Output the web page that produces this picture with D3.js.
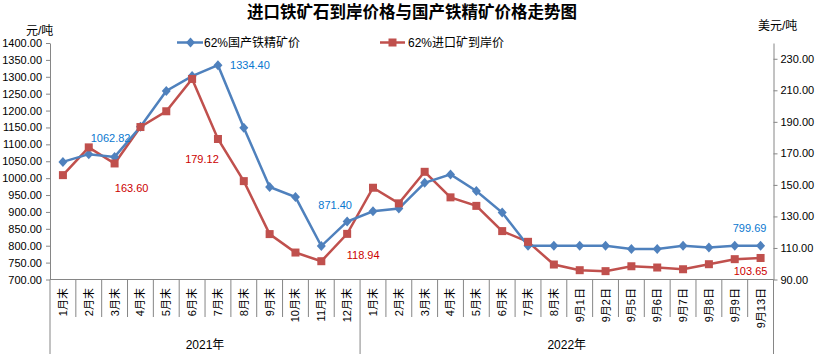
<!DOCTYPE html>
<html>
<head>
<meta charset="utf-8">
<script src="https://cdn.jsdelivr.net/npm/d3@7"></script>
<style>
  body { margin: 0; background: #fff; }
  text { font-family: "Liberation Sans", "Noto Sans CJK SC", sans-serif; }
</style>
</head>
<body>
<div id="chart"></div>
<script>
// dados
var categorias = ["1月末","2月末","3月末","4月末","5月末","6月末","7月末","8月末","9月末","10月末","11月末","12月末",
                  "1月末","2月末","3月末","4月末","5月末","6月末","7月末","8月末",
                  "9月1日","9月2日","9月5日","9月6日","9月7日","9月8日","9月9日","9月13日"];
var anos = ["2021年", "2022年"];
var anoInicio = [0, 12];
var anoFim = [12, 28];

var precoNacional = [1048, 1071, 1062.82, 1152, 1258, 1302, 1334.40, 1149, 974, 944, 799, 871.40,
                     902, 910, 986, 1011, 962, 898, 799.69, 799.69,
                     799.69, 799.69, 790, 790, 799.69, 795, 799.69, 799.69];
var precoImportado = [156.2, 173.8, 163.60, 186.7, 196.7, 217.2, 179.12, 152.4, 118.8, 107.1, 101.6, 118.94,
                      148.2, 138.3, 158.3, 142.1, 136.7, 120.7, 113.9, 99.5,
                      95.9, 95.3, 98.4, 97.6, 96.5, 99.7, 102.9, 103.65];

var ticksEsq = [700,750,800,850,900,950,1000,1050,1100,1150,1200,1250,1300,1350,1400];
var ticksDir = [90,110,130,150,170,190,210,230];

var rotuloNacional = [2, 6, 11, 27];
var rotuloImportado = [2, 6, 11, 27];

var azul = "#4F81BD", vermelho = "#C0504D";
var corEixo = "#868686";

var W = 819, H = 354;
var pEsq = 50, pDir = 773.5, pTopo = 43, pBase = 279.5;

var svg = d3.select("#chart")
            .append("svg")
            .attr("width", W)
            .attr("height", H);

// escalas
var x = d3.scaleBand()
          .domain(d3.range(categorias.length))
          .range([pEsq, pDir])
          .padding(0);

var yEsq = d3.scaleLinear().domain([700, 1400]).range([pBase, pTopo]);
var yDir = d3.scaleLinear().domain([90, 240]).range([pBase, pTopo]);

// título
svg.append("text")
   .attr("x", 412)
   .attr("y", 18)
   .attr("text-anchor", "middle")
   .style("font-family", "'Noto Sans CJK SC', sans-serif")
   .style("font-weight", "bold")
   .style("font-size", "16.5px")
   .text("进口铁矿石到岸价格与国产铁精矿价格走势图");

svg.append("text")
   .attr("x", 26).attr("y", 35)
   .style("font-size", "12px")
   .text("元/吨");

svg.append("text")
   .attr("x", 758).attr("y", 30)
   .style("font-size", "12px")
   .text("美元/吨");

// eixos y
var eixoEsq = svg.append("g")
   .attr("transform", "translate(" + pEsq + ",0)")
   .call(d3.axisLeft(yEsq).tickValues(ticksEsq).tickFormat(d3.format(".2f")).tickSize(4).tickSizeOuter(0));

var eixoDir = svg.append("g")
   .attr("transform", "translate(" + pDir + ",0)")
   .call(d3.axisRight(yDir).tickValues(ticksDir).tickFormat(d3.format(".2f")).tickSize(4).tickSizeOuter(0));

[eixoEsq, eixoDir].forEach(function(g) {
    g.select(".domain").attr("stroke", corEixo);
    g.selectAll(".tick line").attr("stroke", corEixo);
    g.selectAll(".tick text")
     .style("font-size", "11px")
     .style("font-family", "'Liberation Sans', sans-serif")
     .attr("fill", "#000");
});
eixoEsq.selectAll(".tick text").attr("x", -8);
eixoDir.selectAll(".tick text").attr("x", 7);

// eixo x
svg.append("line")
   .attr("x1", pEsq).attr("x2", pDir)
   .attr("y1", pBase).attr("y2", pBase)
   .attr("stroke", corEixo);

svg.selectAll(".sep")
   .data(d3.range(categorias.length + 1))
   .enter()
   .append("line")
   .attr("class", "sep")
   .attr("x1", function(i) { return i < categorias.length ? x(i) : x(i - 1) + x.bandwidth(); })
   .attr("x2", function(i) { return i < categorias.length ? x(i) : x(i - 1) + x.bandwidth(); })
   .attr("y1", pBase)
   .attr("y2", function(i) { return (anoInicio.indexOf(i) >= 0 || i === categorias.length) ? H : 317; })
   .attr("stroke", corEixo);

svg.selectAll(".cat")
   .data(categorias)
   .enter()
   .append("text")
   .attr("class", "cat")
   .attr("transform", function(d, i) { return "translate(" + (x(i) + x.bandwidth() / 2) + ",288) rotate(-90)"; })
   .attr("text-anchor", "end")
   .attr("dy", "0.36em")
   .style("font-size", "11px")
   .text(function(d) { return d; });

svg.selectAll(".ano")
   .data(anos)
   .enter()
   .append("text")
   .attr("class", "ano")
   .attr("x", function(d, i) { return (x(anoInicio[i]) + x(anoFim[i] - 1) + x.bandwidth()) / 2; })
   .attr("y", 349)
   .attr("text-anchor", "middle")
   .style("font-size", "12px")
   .text(function(d) { return d; });

// linhas
var cx = function(d, i) { return x(i) + x.bandwidth() / 2; };

var linhaNac = d3.line()
   .x(cx)
   .y(function(d) { return yEsq(d); });
var linhaImp = d3.line()
   .x(cx)
   .y(function(d) { return yDir(d); });

svg.append("path")
   .datum(precoImportado)
   .attr("d", linhaImp)
   .attr("fill", "none")
   .attr("stroke", vermelho)
   .attr("stroke-width", 2.5);

svg.append("path")
   .datum(precoNacional)
   .attr("d", linhaNac)
   .attr("fill", "none")
   .attr("stroke", azul)
   .attr("stroke-width", 2.5);

var diamante = "M0,-5L4.5,0L0,5L-4.5,0Z";

svg.selectAll(".mNac")
   .data(precoNacional)
   .enter()
   .append("path")
   .attr("class", "mNac")
   .attr("d", diamante)
   .attr("transform", function(d, i) { return "translate(" + cx(d, i) + "," + yEsq(d) + ")"; })
   .attr("fill", azul);

svg.selectAll(".mImp")
   .data(precoImportado)
   .enter()
   .append("rect")
   .attr("class", "mImp")
   .attr("x", function(d, i) { return cx(d, i) - 4; })
   .attr("y", function(d) { return yDir(d) - 4; })
   .attr("width", 8)
   .attr("height", 8)
   .attr("fill", vermelho);

// rótulos de dados
var desvNac = { 2: [-4, -15], 6: [32, 4], 11: [-12, -13], 27: [-11, -14] };
var desvImp = { 2: [17, 29], 6: [-16, 24], 11: [16, 25], 27: [-10, 17] };

svg.selectAll(".lNac")
   .data(rotuloNacional)
   .enter()
   .append("text")
   .attr("class", "lNac")
   .attr("x", function(i) { return cx(null, i) + desvNac[i][0]; })
   .attr("y", function(i) { return yEsq(precoNacional[i]) + desvNac[i][1]; })
   .attr("text-anchor", "middle")
   .attr("fill", "#0A78D0")
   .style("font-size", "11px")
   .text(function(i) { return d3.format(".2f")(precoNacional[i]); });

svg.selectAll(".lImp")
   .data(rotuloImportado)
   .enter()
   .append("text")
   .attr("class", "lImp")
   .attr("x", function(i) { return cx(null, i) + desvImp[i][0]; })
   .attr("y", function(i) { return yDir(precoImportado[i]) + desvImp[i][1]; })
   .attr("text-anchor", "middle")
   .attr("fill", "#CC0000")
   .style("font-size", "11px")
   .text(function(i) { return d3.format(".2f")(precoImportado[i]); });

// legenda
var leg = svg.append("g");
leg.append("line").attr("x1", 177).attr("x2", 203).attr("y1", 42.5).attr("y2", 42.5)
   .attr("stroke", azul).attr("stroke-width", 2.5);
leg.append("path").attr("d", diamante).attr("transform", "translate(190.5,42.5)").attr("fill", azul);
leg.append("text").attr("x", 204).attr("y", 46.5).style("font-size", "12px").text("62%国产铁精矿价");

leg.append("line").attr("x1", 380).attr("x2", 405).attr("y1", 42.5).attr("y2", 42.5)
   .attr("stroke", vermelho).attr("stroke-width", 2.5);
leg.append("rect").attr("x", 388.5).attr("y", 38.5).attr("width", 8).attr("height", 8).attr("fill", vermelho);
leg.append("text").attr("x", 408).attr("y", 46.5).style("font-size", "12px").text("62%进口矿到岸价");
</script>
</body>
</html>
